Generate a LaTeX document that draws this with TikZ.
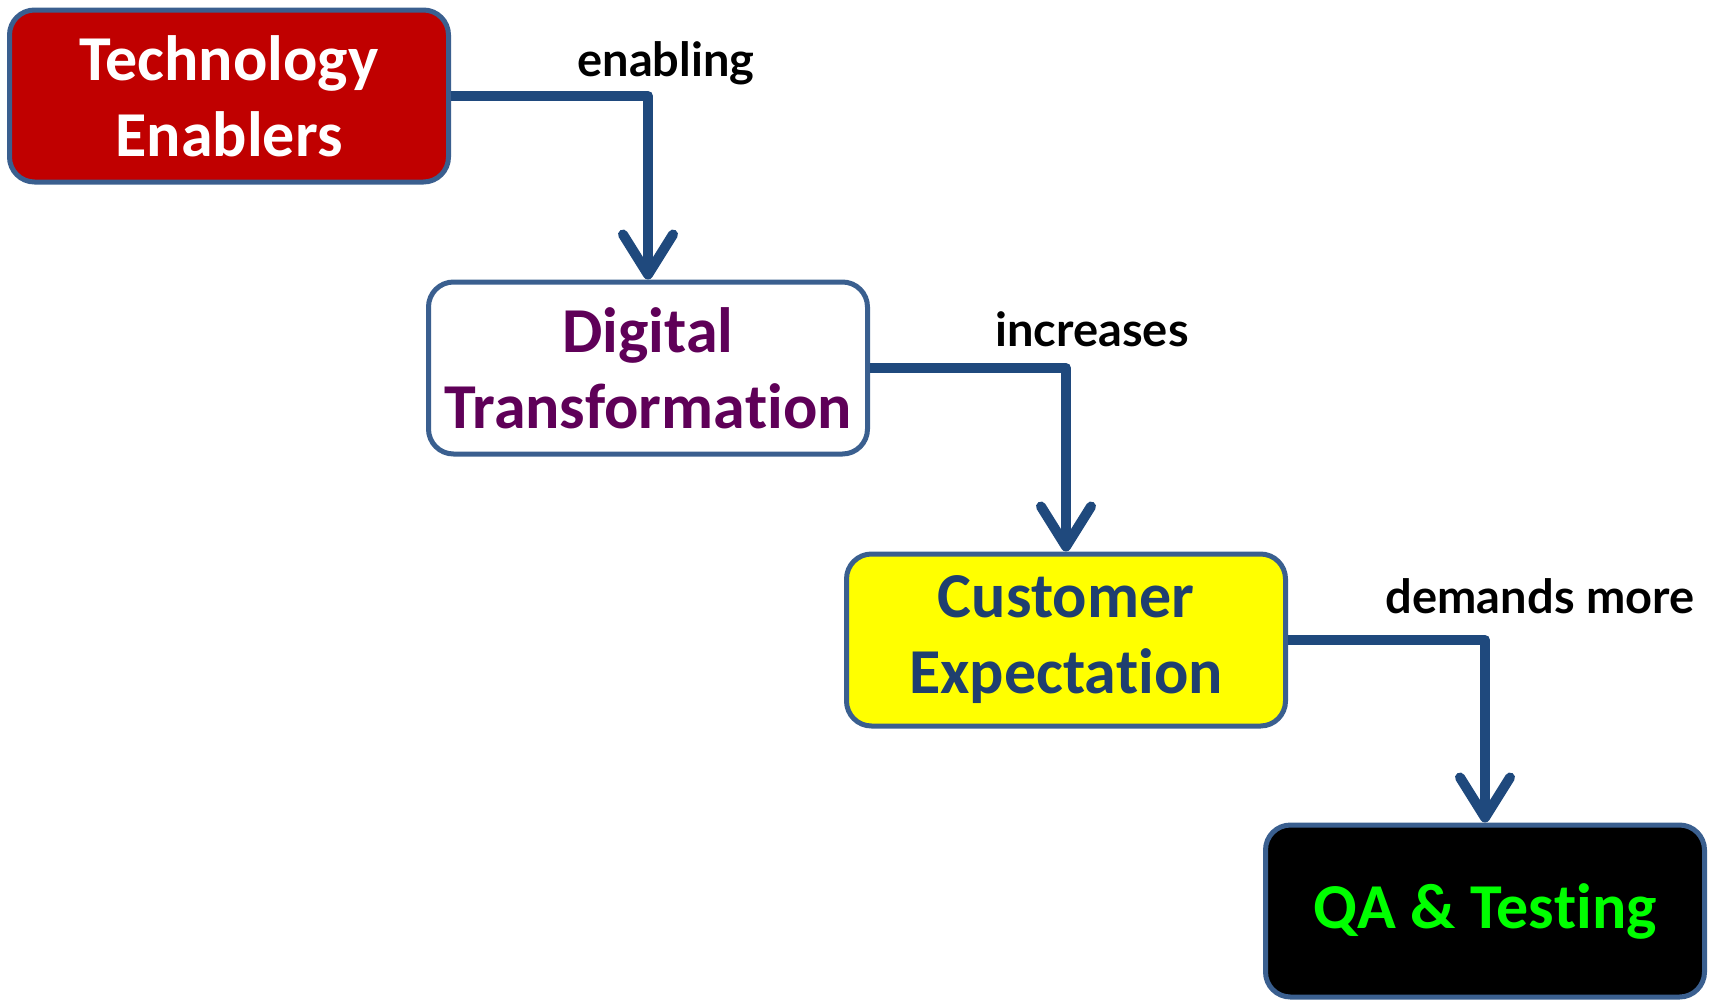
\documentclass[tikz,border=0pt]{standalone}
\usepackage{fontspec}
\setmainfont[Ligatures=NoCommon, RawFeature={-liga;-calt;-dlig}]{Carlito}
\newfontfamily\labelfont{Lato}
\usetikzlibrary{arrows.meta}
\definecolor{borderblue}{HTML}{3A5F8F}
\definecolor{linkblue}{HTML}{1F497D}
\definecolor{boxred}{HTML}{C00000}
\definecolor{txtpurple}{HTML}{5F0058}
\definecolor{txtblue}{HTML}{1F3F6F}
\definecolor{txtgreen}{HTML}{00FF00}
\definecolor{boxyellow}{HTML}{FFFF00}
\tikzset{
  stagebox/.style={draw=borderblue, line width=5pt, rounded corners=25pt,
    minimum width=439pt, minimum height=172pt, inner sep=0pt, align=center,
    font=\fontsize{64}{76}\selectfont\bfseries},
  link/.style={draw=linkblue, line width=10pt, line join=round,
    -{Straight Barb[length=40pt, width=50pt, round]}},
  linklabel/.style={anchor=base, font=\labelfont\fontsize{47}{50}\selectfont\bfseries, text=black}
}
\begin{document}
\begin{tikzpicture}[x=1pt,y=-1pt]
\useasboundingbox (0,0) rectangle (1721,999);
\node[stagebox, fill=boxred, text=white] (tech) at (229,96) {Technology\\Enablers};
\node[stagebox, fill=white, text=txtpurple] (digi) at (648,368) {Digital\\Transforma\kern0pt tion};
\node[stagebox, fill=boxyellow, text=txtblue] (cust) at (1066,640) {Customer\\Expecta\kern0pt tion};
\node[stagebox, fill=black, text=txtgreen] (qa) at (1485,911) {QA \& Tes\kern0pt ting};
\draw[link] (tech.east) -| (digi.north);
\draw[link] (digi.east) -| (cust.north);
\draw[link] (cust.east) -| (qa.north);
\node[linklabel] (l1) at (666,76) {enabling};
\node[linklabel] (l2) at (1092,346) {increases};
\node[linklabel] (l3) at (1540,613) {demands more};
\end{tikzpicture}
\end{document}
